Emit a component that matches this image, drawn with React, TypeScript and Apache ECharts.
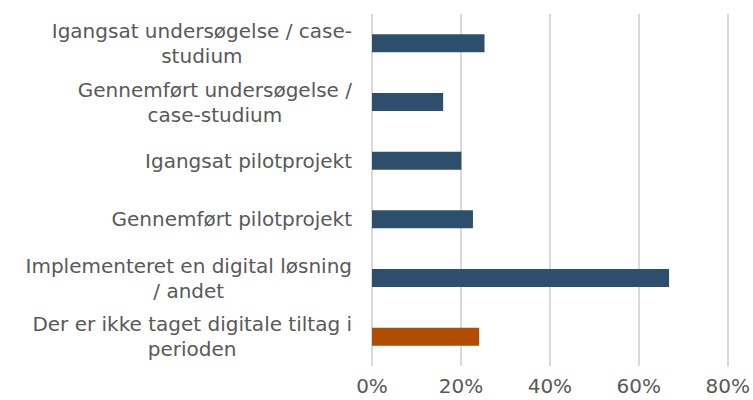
import React, { useEffect, useRef } from "react";
import * as echarts from "echarts";

const categories = [
  "Igangsat undersøgelse / case-\nstudium",
  "Gennemført undersøgelse /\ncase-studium",
  "Igangsat pilotprojekt",
  "Gennemført pilotprojekt",
  "Implementeret en digital løsning\n/ andet",
  "Der er ikke taget digitale tiltag i\nperioden",
];
const values = [25.3, 16.0, 20.1, 22.7, 66.8, 24.1];
const barColors = ["#2E4F6B", "#2E4F6B", "#2E4F6B", "#2E4F6B", "#2E4F6B", "#B04D00"];
const xTicks = { min: 0, max: 80, interval: 20 };

export default function App() {
  const ref = useRef<HTMLDivElement>(null);
  useEffect(() => {
    const chart = echarts.init(ref.current!, null, { renderer: "svg" });
    const font = "DejaVu Sans";
    chart.setOption({
      animation: false,
      grid: { left: 372, right: 25, top: 14, bottom: 34, containLabel: false },
      xAxis: {
        type: "value",
        min: xTicks.min,
        max: xTicks.max,
        interval: xTicks.interval,
        axisLine: { show: false },
        axisTick: { show: false },
        splitLine: { show: true, lineStyle: { color: "#D9D9D9", width: 2 } },
        axisLabel: {
          formatter: "{value}%",
          color: "#595959",
          fontSize: 20,
          fontFamily: font,
          margin: 10,
        },
      },
      yAxis: {
        type: "category",
        inverse: true,
        data: categories,
        axisLine: { show: false },
        axisTick: { show: false },
        axisLabel: {
          margin: 20,
          formatter: (v: string) =>
            v
              .split("\n")
              .map((l) => `{c|${l}}`)
              .join("\n"),
          rich: {
            c: {
              align: "center",
              color: "#595959",
              fontSize: 20,
              fontFamily: font,
              lineHeight: 25,
            },
          },
        },
      },
      series: [
        {
          type: "bar",
          barWidth: 18,
          data: values.map((v, i) => ({ value: v, itemStyle: { color: barColors[i] } })),
        },
      ],
    });
    return () => chart.dispose();
  }, []);
  return (
    <div
      ref={ref}
      style={{ position: "absolute", left: 0, top: 0, width: 753, height: 400, background: "#fff" }}
    />
  );
}
